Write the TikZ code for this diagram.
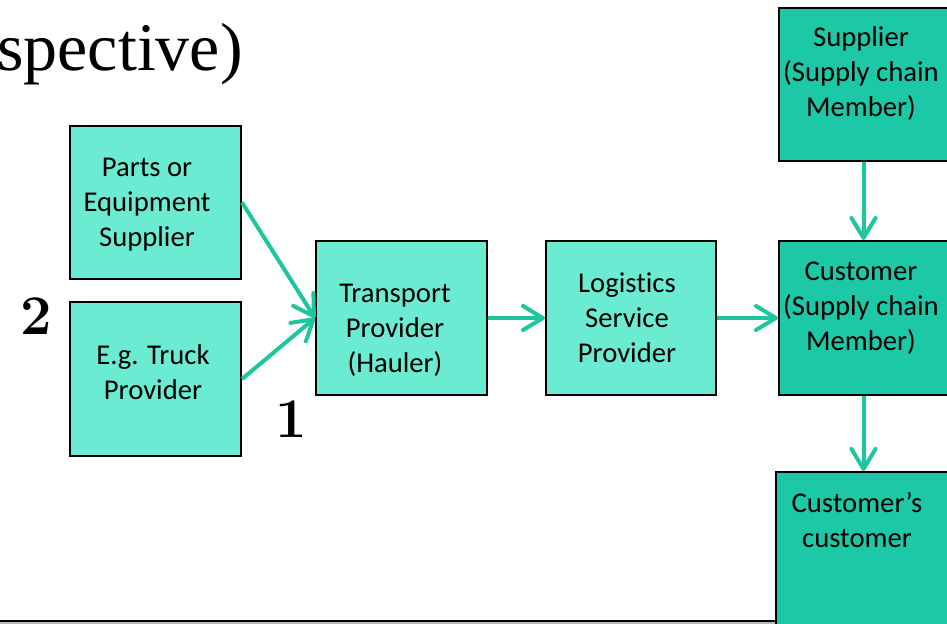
\documentclass[tikz,border=0pt]{standalone}
\usepackage{fontspec}
\newfontfamily\boxfont[Ligatures=NoCommon]{Carlito}
\newfontfamily\titlefont{Liberation Serif}
\usetikzlibrary{arrows.meta}
\definecolor{boxlight}{RGB}{108,235,211}
\definecolor{boxdark}{RGB}{28,200,165}
\definecolor{flowc}{RGB}{30,198,160}
\begin{document}
\begin{tikzpicture}[x=0.75pt,y=-0.75pt,
  box/.style={draw=black, line width=1.5pt, inner sep=0pt},
  lightbox/.style={box, fill=boxlight},
  darkbox/.style={box, fill=boxdark},
  boxtext/.style={font=\boxfont\fontsize{21.5}{26.25}\selectfont, align=center, inner sep=0pt},
  flow/.style={draw=flowc, line width=3pt, -{Straight Barb[length=15pt,width=18pt,round]}},
  num/.style={font=\fontsize{42}{42}\selectfont\bfseries, inner sep=0pt}]
\useasboundingbox (0,0) rectangle (947,624);

% slide title fragment
\node[font=\titlefont\fontsize{51}{60}\selectfont, anchor=base east, inner sep=0pt] (title) at (243,71) {spective)};

% boxes
\node[lightbox, minimum width=171*0.75pt, minimum height=153*0.75pt] (parts) at (155.5,202.5) {};
\node[lightbox, minimum width=171*0.75pt, minimum height=154*0.75pt] (truck) at (155.5,379) {};
\node[lightbox, minimum width=171*0.75pt, minimum height=154*0.75pt] (transport) at (401.5,318) {};
\node[lightbox, minimum width=170*0.75pt, minimum height=154*0.75pt] (logistics) at (631,318) {};
\node[darkbox, minimum width=169*0.75pt, minimum height=153*0.75pt] (supplier) at (863.5,84.5) {};
\node[darkbox, minimum width=169*0.75pt, minimum height=154*0.75pt] (customer) at (863.5,318) {};
\node[darkbox, minimum width=172*0.75pt, minimum height=160*0.75pt] (ccust) at (862,552) {};

% box texts
\node[boxtext] (partsT) at (147,205) {Parts or\\Equipment\\Supplier};
\node[boxtext] (truckT) at (153,372) {E.g. Truck\\Provider};
\node[boxtext] (transportT) at (395,330) {Transport\\Provider\\(Hauler)};
\node[boxtext] (logisticsT) at (627,318) {Logistics\\Service\\Provider};
\node[boxtext] (supplierT) at (861,74) {Supplier\\(Supply chain\\Member)};
\node[boxtext] (customerT) at (861,308) {Customer\\(Supply chain\\Member)};
\node[boxtext] (ccustT) at (857,520) {Customer’s\\customer};

% numbers
\node[num] (two) at (36,316) {2};
\node[num] (one) at (291,419) {1};

% connectors
\draw[flow] (parts.east) -- (transport.west);
\draw[flow] (truck.east) -- (transport.west);
\draw[flow] (transport.east) -- (logistics.west);
\draw[flow] (logistics.east) -- (customer.west);
\draw[flow] (supplier.south) -- (customer.north);
\draw[flow] (customer.south) -- (customer.south |- ccust.north);

% footer rule
\coordinate (ruleL) at (0,620.5);
\draw[gray!55, line width=1.5pt] (0,623) -- (ccust.west |- 0,623);
\draw[black, line width=1.5pt] (ruleL) -- (ccust.west |- ruleL);
\end{tikzpicture}
\end{document}
